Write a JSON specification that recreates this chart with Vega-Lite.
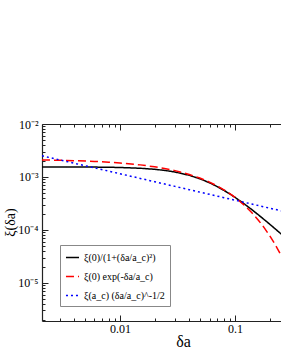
{
  "$schema": "https://vega.github.io/schema/vega-lite/v6.json",
  "autosize": "none",
  "width": 248,
  "height": 197,
  "padding": {"left": 42, "top": 124, "right": 0, "bottom": 42},
  "background": "white",
  "config": {
    "view": {"stroke": null},
    "font": "Liberation Serif",
    "axis": {"domainColor": "#222", "tickColor": "#222", "labelColor": "#000", "titleColor": "#000", "grid": false, "labelFont": "Liberation Serif", "titleFont": "Liberation Serif", "titleFontWeight": "normal", "labelOverlap": false, "labelFlush": false, "domainWidth": 1.2, "tickWidth": 1},
    "legend": {"labelFont": "Liberation Serif", "labelFontSize": 10}
  },
  "data": {"values": [
    {"x": 0.0021, "y": 0.001548, "s": "A"}, {"x": 0.0021, "y": 0.002095, "s": "B"}, {"x": 0.0021, "y": 0.002507, "s": "C"},
    {"x": 0.003, "y": 0.001546, "s": "A"}, {"x": 0.003, "y": 0.002064, "s": "B"}, {"x": 0.003, "y": 0.002097, "s": "C"},
    {"x": 0.004, "y": 0.001543, "s": "A"}, {"x": 0.004, "y": 0.00203, "s": "B"}, {"x": 0.004, "y": 0.001816, "s": "C"},
    {"x": 0.006, "y": 0.001535, "s": "A"}, {"x": 0.006, "y": 0.001963, "s": "B"}, {"x": 0.006, "y": 0.001483, "s": "C"},
    {"x": 0.008, "y": 0.001523, "s": "A"}, {"x": 0.008, "y": 0.001899, "s": "B"}, {"x": 0.008, "y": 0.001284, "s": "C"},
    {"x": 0.01, "y": 0.001508, "s": "A"}, {"x": 0.01, "y": 0.001837, "s": "B"}, {"x": 0.01, "y": 0.001149, "s": "C"},
    {"x": 0.015, "y": 0.001459, "s": "A"}, {"x": 0.015, "y": 0.00169, "s": "B"}, {"x": 0.015, "y": 0.000938, "s": "C"},
    {"x": 0.02, "y": 0.001395, "s": "A"}, {"x": 0.02, "y": 0.001555, "s": "B"}, {"x": 0.02, "y": 0.0008123, "s": "C"},
    {"x": 0.025, "y": 0.001321, "s": "A"}, {"x": 0.025, "y": 0.00143, "s": "B"}, {"x": 0.025, "y": 0.0007266, "s": "C"},
    {"x": 0.03, "y": 0.00124, "s": "A"}, {"x": 0.03, "y": 0.001316, "s": "B"}, {"x": 0.03, "y": 0.0006633, "s": "C"},
    {"x": 0.04, "y": 0.001073, "s": "A"}, {"x": 0.04, "y": 0.001114, "s": "B"}, {"x": 0.04, "y": 0.0005744, "s": "C"},
    {"x": 0.05, "y": 0.0009148, "s": "A"}, {"x": 0.05, "y": 0.0009431, "s": "B"}, {"x": 0.05, "y": 0.0005138, "s": "C"},
    {"x": 0.06, "y": 0.000775, "s": "A"}, {"x": 0.06, "y": 0.0007983, "s": "B"}, {"x": 0.06, "y": 0.000469, "s": "C"},
    {"x": 0.07, "y": 0.0006565, "s": "A"}, {"x": 0.07, "y": 0.0006757, "s": "B"}, {"x": 0.07, "y": 0.0004342, "s": "C"},
    {"x": 0.08, "y": 0.000558, "s": "A"}, {"x": 0.08, "y": 0.000572, "s": "B"}, {"x": 0.08, "y": 0.0004062, "s": "C"},
    {"x": 0.09, "y": 0.0004769, "s": "A"}, {"x": 0.09, "y": 0.0004842, "s": "B"}, {"x": 0.09, "y": 0.0003829, "s": "C"},
    {"x": 0.1, "y": 0.0004103, "s": "A"}, {"x": 0.1, "y": 0.0004099, "s": "B"}, {"x": 0.1, "y": 0.0003633, "s": "C"},
    {"x": 0.12, "y": 0.00031, "s": "A"}, {"x": 0.12, "y": 0.0002937, "s": "B"}, {"x": 0.12, "y": 0.0003316, "s": "C"},
    {"x": 0.14, "y": 0.0002405, "s": "A"}, {"x": 0.14, "y": 0.0002104, "s": "B"}, {"x": 0.14, "y": 0.000307, "s": "C"},
    {"x": 0.16, "y": 0.0001911, "s": "A"}, {"x": 0.16, "y": 0.0001508, "s": "B"}, {"x": 0.16, "y": 0.0002872, "s": "C"},
    {"x": 0.18, "y": 0.000155, "s": "A"}, {"x": 0.18, "y": 0.000108, "s": "B"}, {"x": 0.18, "y": 0.0002708, "s": "C"},
    {"x": 0.2, "y": 0.000128, "s": "A"}, {"x": 0.2, "y": 0.00007741, "s": "B"}, {"x": 0.2, "y": 0.0002569, "s": "C"},
    {"x": 0.22, "y": 0.0001073, "s": "A"}, {"x": 0.22, "y": 0.00005547, "s": "B"}, {"x": 0.22, "y": 0.0002449, "s": "C"},
    {"x": 0.25, "y": 0.00008442, "s": "A"}, {"x": 0.25, "y": 0.00003364, "s": "B"}, {"x": 0.25, "y": 0.0002298, "s": "C"},
    {"x": 0.28, "y": 0.00006805, "s": "A"}, {"x": 0.28, "y": 0.00002041, "s": "B"}, {"x": 0.28, "y": 0.0002171, "s": "C"},
    {"x": 0.3, "y": 0.00005962, "s": "A"}, {"x": 0.3, "y": 0.00001462, "s": "B"}, {"x": 0.3, "y": 0.0002097, "s": "C"}
  ]},
  "encoding": {
    "y": {
      "field": "y", "type": "quantitative",
      "scale": {"type": "log", "domain": [0.0000019, 0.01], "nice": false},
      "axis": {
        "orient": "left",
        "title": "ξ(δa)", "titleFontSize": 14, "titleAngle": -90, "titleX": -32, "titleY": 98, "titleAlign": "center", "titleBaseline": "middle",
        "values": [0.000002, 0.000003, 0.000004, 0.000005, 0.000006, 0.000007, 0.000008, 0.000009, 0.00001, 0.00002, 0.00003, 0.00004, 0.00005, 0.00006, 0.00007, 0.00008, 0.00009, 0.0001, 0.0002, 0.0003, 0.0004, 0.0005, 0.0006, 0.0007, 0.0008, 0.0009, 0.001, 0.002, 0.003, 0.004, 0.005, 0.006, 0.007, 0.008, 0.009, 0.01],
        "labelExpr": "datum.value == 0.01 ? '10⁻²' : datum.value == 0.001 ? '10⁻³' : datum.value == 0.0001 ? '10⁻⁴' : datum.value == 0.00001 ? '10⁻⁵' : ''",
        "labelFontSize": 12, "labelPadding": 10,
        "tickSize": {"condition": {"test": "abs(log(datum.value)/LN10 - round(log(datum.value)/LN10)) < 0.000001", "value": -6}, "value": -3}
      }
    }
  },
  "layer": [
    {
      "mark": {"type": "line", "strokeWidth": 1.5, "clip": true},
      "encoding": {
        "x": {
          "field": "x", "type": "quantitative",
          "scale": {"type": "log", "domain": [0.0021, 0.3], "nice": false},
          "axis": {
            "orient": "bottom",
            "title": "δa", "titleFontSize": 16, "titleX": 141, "titleY": 20, "titleBaseline": "middle",
            "values": [0.003, 0.004, 0.005, 0.006, 0.007, 0.008, 0.009, 0.01, 0.02, 0.03, 0.04, 0.05, 0.06, 0.07, 0.08, 0.09, 0.1, 0.2, 0.3],
            "labelExpr": "datum.value == 0.01 ? '0.01' : datum.value == 0.1 ? '0.1' : ''",
            "labelFontSize": 12, "labelPadding": 8,
            "tickSize": {"condition": {"test": "abs(log(datum.value)/LN10 - round(log(datum.value)/LN10)) < 0.000001", "value": -6}, "value": -3}
          }
        },
        "color": {
          "field": "s", "type": "nominal",
          "scale": {"domain": ["A", "B", "C"], "range": ["#000000", "#ff0000", "#0000ff"]},
          "legend": {
            "orient": "none", "legendX": 18, "legendY": 121, "title": null,
            "labelExpr": "datum.value == 'A' ? 'ξ(0)/(1+(δa/a_c)²)' : datum.value == 'B' ? 'ξ(0) exp(-δa/a_c)' : 'ξ(a_c) (δa/a_c)^-1/2'",
            "strokeColor": "#888", "fillColor": "white", "padding": 5,
            "symbolType": "stroke", "symbolSize": 170, "symbolStrokeWidth": 1.5,
            "labelFont": "Liberation Serif", "labelFontSize": 10, "rowPadding": 6, "labelLimit": 200
          }
        },
        "strokeDash": {
          "field": "s", "type": "nominal",
          "scale": {"domain": ["A", "B", "C"], "range": [[1, 0], [8, 4], [2, 3]]},
          "legend": {
            "orient": "none", "legendX": 18, "legendY": 121, "title": null,
            "labelExpr": "datum.value == 'A' ? 'ξ(0)/(1+(δa/a_c)²)' : datum.value == 'B' ? 'ξ(0) exp(-δa/a_c)' : 'ξ(a_c) (δa/a_c)^-1/2'",
            "strokeColor": "#888", "fillColor": "white", "padding": 5,
            "symbolType": "stroke", "symbolSize": 170, "symbolStrokeWidth": 1.5,
            "labelFont": "Liberation Serif", "labelFontSize": 10, "rowPadding": 6, "labelLimit": 200
          }
        }
      }
    },
    {
      "mark": {"type": "line", "opacity": 0, "clip": true},
      "encoding": {
        "detail": {"field": "s", "type": "nominal"},
        "x": {
          "field": "x", "type": "quantitative",
          "scale": {"type": "log", "domain": [0.0021, 0.3], "nice": false},
          "axis": {
            "orient": "top", "title": null, "labels": false,
            "values": [0.003, 0.004, 0.005, 0.006, 0.007, 0.008, 0.009, 0.01, 0.02, 0.03, 0.04, 0.05, 0.06, 0.07, 0.08, 0.09, 0.1, 0.2, 0.3],
            "tickSize": {"condition": {"test": "abs(log(datum.value)/LN10 - round(log(datum.value)/LN10)) < 0.000001", "value": -6}, "value": -3}
          }
        }
      }
    }
  ],
  "resolve": {"axis": {"x": "independent"}}
}
